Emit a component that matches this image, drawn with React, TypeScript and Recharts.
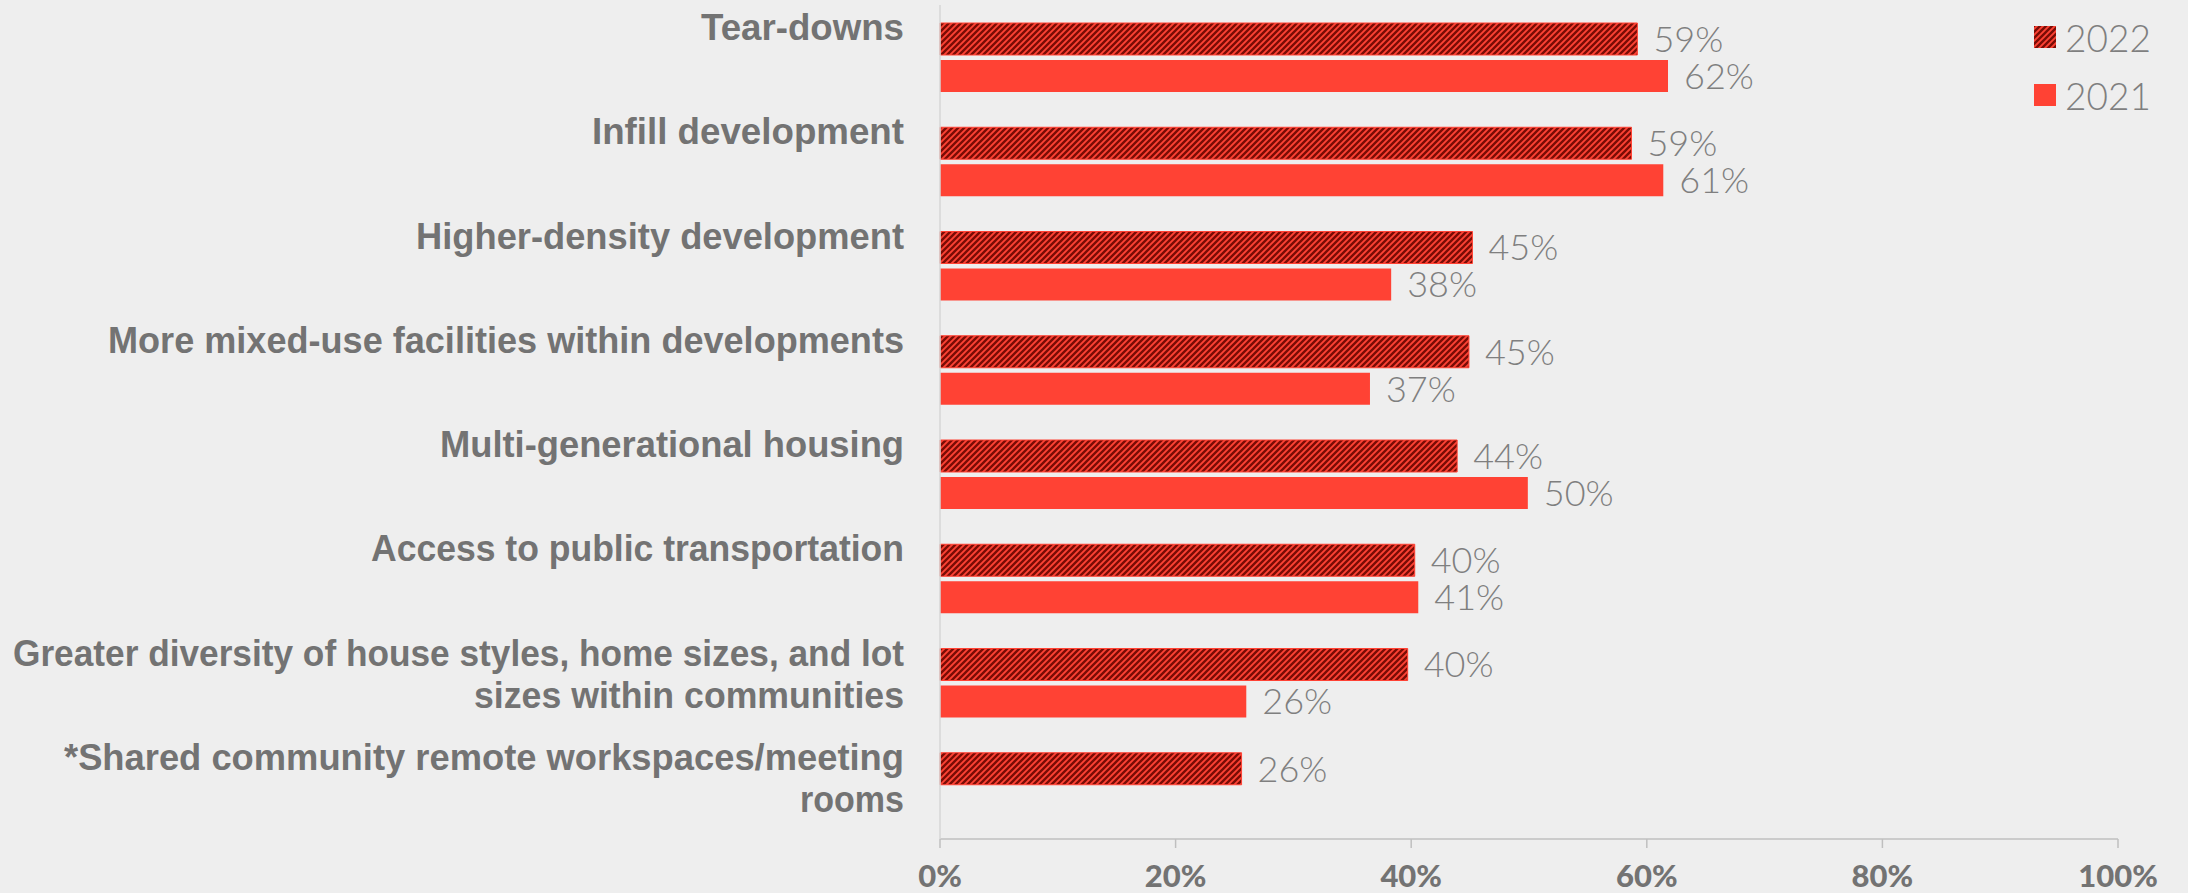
import React from 'react';
import { BarChart, Bar, XAxis, YAxis, Legend, LabelList } from 'recharts';

const categories = [
  'Tear-downs',
  'Infill development',
  'Higher-density development',
  'More mixed-use facilities within developments',
  'Multi-generational housing',
  'Access to public transportation',
  'Greater diversity of house styles, home sizes, and lot sizes within communities',
  '*Shared community remote workspaces/meeting rooms',
];

const categoryLines = [
  ['Tear-downs'],
  ['Infill development'],
  ['Higher-density development'],
  ['More mixed-use facilities within developments'],
  ['Multi-generational housing'],
  ['Access to public transportation'],
  ['Greater diversity of house styles, home sizes, and lot', 'sizes within communities'],
  ['*Shared community remote workspaces/meeting', 'rooms'],
];

const values2022 = [59.2, 58.7, 45.2, 44.9, 43.9, 40.3, 39.7, 25.6];
const values2021: (number | null)[] = [61.8, 61.4, 38.3, 36.5, 49.9, 40.6, 26.0, null];

const xTicks = [0, 20, 40, 60, 80, 100];
const seriesNames = ['2022', '2021'];

const data = categories.map((name, i) => ({
  name,
  v2022: values2022[i],
  v2021: values2021[i],
}));

// fitted text widths (style) for the category labels
const labelFit = [[203], [312], [488], [796], [464], [533], [891, 430], [840, 104]];

const RED = '#FF4234';
const DARK = '#7A0C05';
const GREY = '#737373';
const LIGHT_GREY = '#7f7f7f';

const YTick = (props: any) => {
  const { x, y, payload } = props;
  const idx = categories.indexOf(payload.value);
  const lines = categoryLines[idx] || [payload.value];
  const fits = labelFit[idx] || [];
  return (
    <g>
      {lines.map((ln: string, k: number) => (
        <text
          key={k}
          x={x - 36}
          y={y - 17 + k * 42}
          textAnchor="end"
          fill={GREY}
          fontFamily="'Liberation Sans', Arial, sans-serif"
          fontWeight={700}
          fontSize={36}
          textLength={fits[k]}
          lengthAdjust="spacingAndGlyphs"
        >
          {ln}
        </text>
      ))}
    </g>
  );
};

const XTick = (props: any) => {
  const { x, y, payload } = props;
  return (
    <text
      x={x}
      y={y}
      dy={37}
      textAnchor="middle"
      fill={GREY}
      fontFamily="Lato, sans-serif"
      fontWeight={900}
      fontSize={31}
    >
      {`${payload.value}%`}
    </text>
  );
};

const LegendContent = () => (
  <div style={{ fontFamily: 'Lato, sans-serif', fontWeight: 300, fontSize: 37, color: LIGHT_GREY }}>
    {seriesNames.map((n, i) => (
      <div key={n} style={{ display: 'flex', alignItems: 'center', height: 58 }}>
        <svg width={22} height={22} style={{ marginRight: 9 }}>
          <rect width={22} height={22} fill={i === 0 ? 'url(#hatch)' : RED} />
        </svg>
        <span style={{ lineHeight: '37px' }}>{n}</span>
      </div>
    ))}
  </div>
);

const fmt = (v: any) => (v == null ? '' : `${Math.round(Number(v))}%`);

export default function App() {
  return (
    <div style={{ position: 'absolute', left: 0, top: 0, width: 2188, height: 893, background: '#eeeeee' }}>
      <BarChart
        width={2188}
        height={893}
        data={data}
        layout="vertical"
        margin={{ top: 5, right: 70, bottom: 0, left: 0 }}
        barGap={5}
      >
        <defs>
          <pattern id="hatch" patternUnits="userSpaceOnUse" width="6" height="6">
            <rect width="6" height="6" fill={RED} />
            <path d="M-1,1 l2,-2 M0,6 l6,-6 M5,7 l2,-2" stroke={DARK} strokeWidth="2.4" />
          </pattern>
        </defs>
        <XAxis
          type="number"
          domain={[0, 100]}
          ticks={xTicks}
          interval={0}
          height={54}
          axisLine={{ stroke: '#bfbfbf', strokeWidth: 1.5 }}
          tickLine={{ stroke: '#bfbfbf', strokeWidth: 1.5 }}
          tickSize={9}
          tickMargin={2}
          tick={<XTick />}
        />
        <YAxis
          type="category"
          dataKey="name"
          width={940}
          interval={0}
          axisLine={{ stroke: '#d6d6d6', strokeWidth: 1.5 }}
          tickLine={false}
          tickSize={0}
          tickMargin={0}
          tick={<YTick />}
        />
        <Legend
          layout="vertical"
          align="center"
          verticalAlign="middle"
          content={<LegendContent />}
          wrapperStyle={{ position: 'absolute', left: 2034, top: 8, width: 150, height: 116 }}
        />
        <Bar
          dataKey="v2022"
          name="2022"
          fill="url(#hatch)"
          stroke={RED}
          strokeWidth={1}
          barSize={32}
          isAnimationActive={false}
        >
          <LabelList
            dataKey="v2022"
            position="right"
            offset={16}
            formatter={fmt}
            fill={LIGHT_GREY}
            fontSize={36}
            fontFamily="Lato, sans-serif"
            fontWeight={300}
          />
        </Bar>
        <Bar dataKey="v2021" name="2021" fill={RED} barSize={32} isAnimationActive={false}>
          <LabelList
            dataKey="v2021"
            position="right"
            offset={16}
            formatter={fmt}
            fill={LIGHT_GREY}
            fontSize={36}
            fontFamily="Lato, sans-serif"
            fontWeight={300}
          />
        </Bar>
      </BarChart>
    </div>
  );
}
